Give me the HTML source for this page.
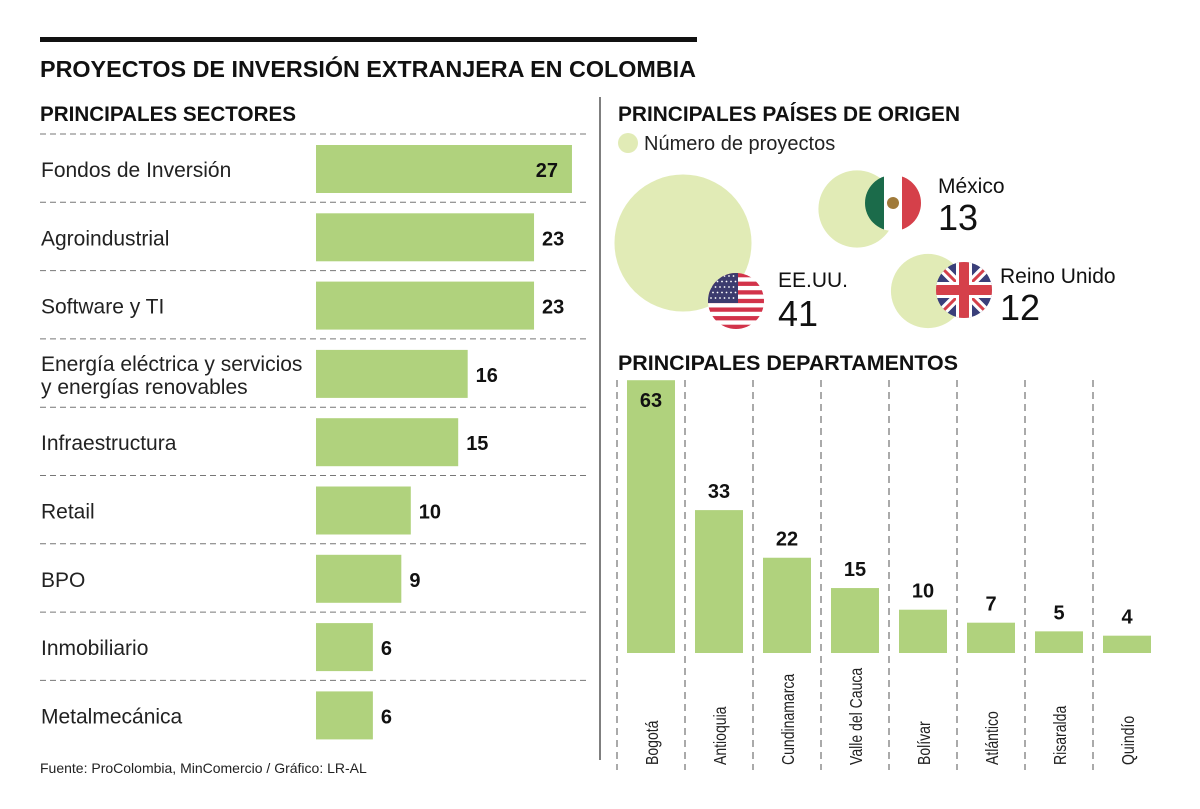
<!DOCTYPE html>
<html><head><meta charset="utf-8"><style>
body{margin:0;background:#fff}
svg{display:block;font-family:"Liberation Sans",sans-serif}
</style></head><body>
<svg id="c" width="1200" height="809" viewBox="0 0 1200 809">
<rect x="40" y="37" width="657" height="5" fill="#111"/>
<text x="40" y="77" font-size="23" font-weight="bold" fill="#111" textLength="656" lengthAdjust="spacingAndGlyphs">PROYECTOS DE INVERSIÓN EXTRANJERA EN COLOMBIA</text>
<text x="40" y="121" font-size="21" font-weight="bold" fill="#111" textLength="256" lengthAdjust="spacingAndGlyphs">PRINCIPALES SECTORES</text>
<line x1="600" y1="97" x2="600" y2="760" stroke="#555" stroke-width="1.5"/>
<text x="618" y="121" font-size="21" font-weight="bold" fill="#111" textLength="342" lengthAdjust="spacingAndGlyphs">PRINCIPALES PAÍSES DE ORIGEN</text>
<circle cx="628" cy="143" r="10" fill="#e1ebb6"/>
<text x="644" y="150" font-size="20" fill="#222">Número de proyectos</text>
<g id="bubbles"></g>
<text x="618" y="370" font-size="21" font-weight="bold" fill="#111" textLength="340" lengthAdjust="spacingAndGlyphs">PRINCIPALES DEPARTAMENTOS</text>
<g id="sectors"></g>
<g id="depts"></g>
<text x="40" y="773" font-size="14" fill="#222">Fuente: ProColombia, MinComercio / Gráfico: LR-AL</text>
</svg>
<script>
const sectorNames=[["Fondos de Inversión"],["Agroindustrial"],["Software y TI"],["Energía eléctrica y servicios","y energías renovables"],["Infraestructura"],["Retail"],["BPO"],["Inmobiliario"],["Metalmecánica"]];
const sectorValues=[27,23,23,16,15,10,9,6,6];
const deptNames=["Bogotá","Antioquia","Cundinamarca","Valle del Cauca","Bolívar","Atlántico","Risaralda","Quindío"];
const deptValues=[63,33,22,15,10,7,5,4];
const countryNames=["EE.UU.","México","Reino Unido"];
const countryValues=[41,13,12];

const NS="http://www.w3.org/2000/svg";
function mk(t,a,p){const e=document.createElementNS(NS,t);for(const k in a)e.setAttribute(k,a[k]);p.appendChild(e);return e;}
const G="#b0d27d";
// sectors
const sx=v=>v*9.48, rowY=i=>134+i*68.3;
const sg=document.getElementById('sectors');
sectorValues.forEach((v,i)=>{
  const y0=rowY(i);
  const l=mk('line',{x1:40,x2:590,y1:y0,y2:y0,stroke:'#777','stroke-dasharray':'6,4'},sg);
  
  
  const b=mk('rect',{x:316,y:y0+11,width:sx(v),height:48,fill:G},sg);
  
  
  const n=sectorNames[i];
  n.forEach((s,j)=>{
    const t=mk('text',{x:41,y:y0+43+(n.length>1?(j*23-11):0),'font-size':21,fill:'#222'},sg);t.textContent=s;
    
    
  });
  const inside=v>=25;
  const vt=mk('text',{x:inside?316+sx(v)-14:316+sx(v)+8,y:y0+43,'font-size':20,'font-weight':'bold',fill:'#111','text-anchor':inside?'end':'start'},sg);
  vt.textContent=v;
  
  
});
// departments
const dg=document.getElementById('depts');
const base=653, dy=v=>v*4.33, colX=i=>617+i*68;
deptValues.forEach((v,i)=>{
  const x0=colX(i);
  const l=mk('line',{x1:x0,x2:x0,y1:380,y2:770,stroke:'#555','stroke-dasharray':'7,5'},dg);
  
  
  const b=mk('rect',{x:x0+10,y:base-dy(v),width:48,height:dy(v),fill:G},dg);
  
  
  const inside=dy(v)>200;
  const t=mk('text',{x:x0+34,y:inside?base-dy(v)+27:base-dy(v)-12,'font-size':20,'font-weight':'bold',fill:'#111','text-anchor':'middle'},dg);
  t.textContent=v;
  
  
  const lb=mk('text',{x:0,y:0,'font-size':18,fill:'#222',transform:`translate(${x0+41},765) rotate(-90) scale(0.78,1)`},dg);
  lb.textContent=deptNames[i];
  
  
});
// bubbles
const bg=document.getElementById('bubbles');
const rr=v=>Math.sqrt(v)*10.7;
const bc=[[683,243],[857,209],[928,291]];
const lbl=[[778,287,778,326],[938,193,938,230],[1000,283,1000,320]];
countryValues.forEach((v,i)=>{
  const [cx,cy]=bc[i];
  const c=mk('circle',{cx:cx,cy:cy,r:rr(v),fill:'#e1ebb6'},bg);
  
  
  const t1=mk('text',{x:lbl[i][0],y:lbl[i][1],'font-size':21,fill:'#111'},bg);t1.textContent=countryNames[i];
  
  
  const t2=mk('text',{x:lbl[i][2],y:lbl[i][3],'font-size':36,fill:'#111'},bg);t2.textContent=v;
  
  
});
// flags
function flag(cx,cy,kind){
  const g=mk('g',{},bg);
  
  
  const id='cl'+kind;
  const d=mk('defs',{},g);const cp=mk('clipPath',{id:id},d);mk('circle',{cx:cx,cy:cy,r:28},cp);
  const h=mk('g',{'clip-path':`url(#${id})`},g);
  if(kind==='us'){
    for(let k=0;k<13;k++)mk('rect',{x:cx-28,y:cy-28+k*56/13,width:56,height:56/13+0.3,fill:k%2?'#fff':'#d2334a'},h);
    mk('rect',{x:cx-28,y:cy-28,width:30,height:30,fill:'#3c3b6e'},h);
    for(let r=0;r<5;r++)for(let q=0;q<6;q++)mk('circle',{cx:cx-25+q*4.5+(r%2)*2,cy:cy-25+r*5.5,r:0.9,fill:'#fff'},h);
  }else if(kind==='mx'){
    mk('rect',{x:cx-28,y:cy-28,width:19,height:56,fill:'#1b6b4a'},h);
    mk('rect',{x:cx-9,y:cy-28,width:18,height:56,fill:'#fff'},h);
    mk('rect',{x:cx+9,y:cy-28,width:19,height:56,fill:'#d5404a'},h);
    mk('circle',{cx:cx,cy:cy,r:6,fill:'#a07a3a'},h);
  }else{
    mk('rect',{x:cx-28,y:cy-28,width:56,height:56,fill:'#3a3f7a'},h);
    mk('path',{d:`M${cx-28} ${cy-28}L${cx+28} ${cy+28}M${cx+28} ${cy-28}L${cx-28} ${cy+28}`,stroke:'#fff','stroke-width':9},h);
    mk('path',{d:`M${cx-28} ${cy-28}L${cx+28} ${cy+28}M${cx+28} ${cy-28}L${cx-28} ${cy+28}`,stroke:'#d5404a','stroke-width':3},h);
    mk('rect',{x:cx-28,y:cy-8,width:56,height:16,fill:'#fff'},h);
    mk('rect',{x:cx-8,y:cy-28,width:16,height:56,fill:'#fff'},h);
    mk('rect',{x:cx-28,y:cy-5,width:56,height:10,fill:'#d5404a'},h);
    mk('rect',{x:cx-5,y:cy-28,width:10,height:56,fill:'#d5404a'},h);
  }
}
flag(736,301,'us');flag(893,203,'mx');flag(964,290,'uk');
</script>
</body></html>
